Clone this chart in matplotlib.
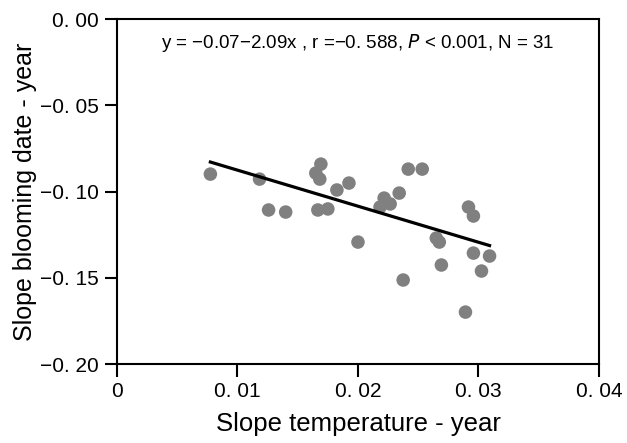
import matplotlib
matplotlib.use('Agg')
import matplotlib.pyplot as plt

# slope temperature vs slope blooming date (per year)
temp_slope = [0.00775, 0.01183, 0.01258, 0.0140, 0.01692, 0.0165, 0.01683,
              0.01825, 0.01925, 0.01667, 0.0175, 0.0200, 0.02217, 0.02183,
              0.02267, 0.02342, 0.02417, 0.02533, 0.02375, 0.0265, 0.02675,
              0.02692, 0.02917, 0.02958, 0.02958, 0.03092, 0.03025, 0.02892]
bloom_slope = [-0.0899, -0.0928, -0.1107, -0.1119, -0.0841, -0.0893, -0.0928,
               -0.0991, -0.0951, -0.1107, -0.1101, -0.1293, -0.1038, -0.1090,
               -0.1072, -0.1009, -0.0870, -0.0870, -0.1513, -0.1270, -0.1293,
               -0.1426, -0.1090, -0.1142, -0.1357, -0.1374, -0.1461, -0.1699]

intercept = -0.0667
slope = -2.09

xticks = [0, 0.01, 0.02, 0.03, 0.04]
xticklabels = ['0', '0. 01', '0. 02', '0. 03', '0. 04']
yticks = [0, -0.05, -0.10, -0.15, -0.20]
yticklabels = ['0. 00', '\u22120. 05', '\u22120. 10', '\u22120. 15', '\u22120. 20']

plt.rcParams['font.family'] = ['Liberation Sans', 'DejaVu Sans']

fig = plt.figure(figsize=(6.27, 4.43), dpi=100)
ax = fig.add_axes([0.1866, 0.1783, 0.7687, 0.7787])

ax.scatter(temp_slope, bloom_slope, s=95, color='#808080', edgecolors='none', zorder=2)

x0, x1 = min(temp_slope), max(temp_slope)
ax.plot([x0, x1], [intercept + slope * x0, intercept + slope * x1],
        color='black', lw=2.3, zorder=3)

ax.set_xlim(0, 0.04)
ax.set_ylim(-0.2, 0)
ax.set_xticks(xticks)
ax.set_xticklabels(xticklabels)
ax.set_yticks(yticks)
ax.set_yticklabels(yticklabels)
ax.tick_params(direction='out', length=9, width=1.5, labelsize=15, pad=4)

for s in ax.spines.values():
    s.set_linewidth(1.5)

ax.set_xlabel('Slope temperature - year', fontsize=18.5, labelpad=8)
ax.set_ylabel('Slope blooming date - year', fontsize=18, labelpad=2)

ax.text(0.5, 0.93,
        'y = \u22120.07\u22122.09x , r =\u22120. 588, $\\it{P}$ < 0.001, N = 31',
        transform=ax.transAxes, ha='center', va='center', fontsize=13.5)

fig.savefig('out.png', dpi=100)
